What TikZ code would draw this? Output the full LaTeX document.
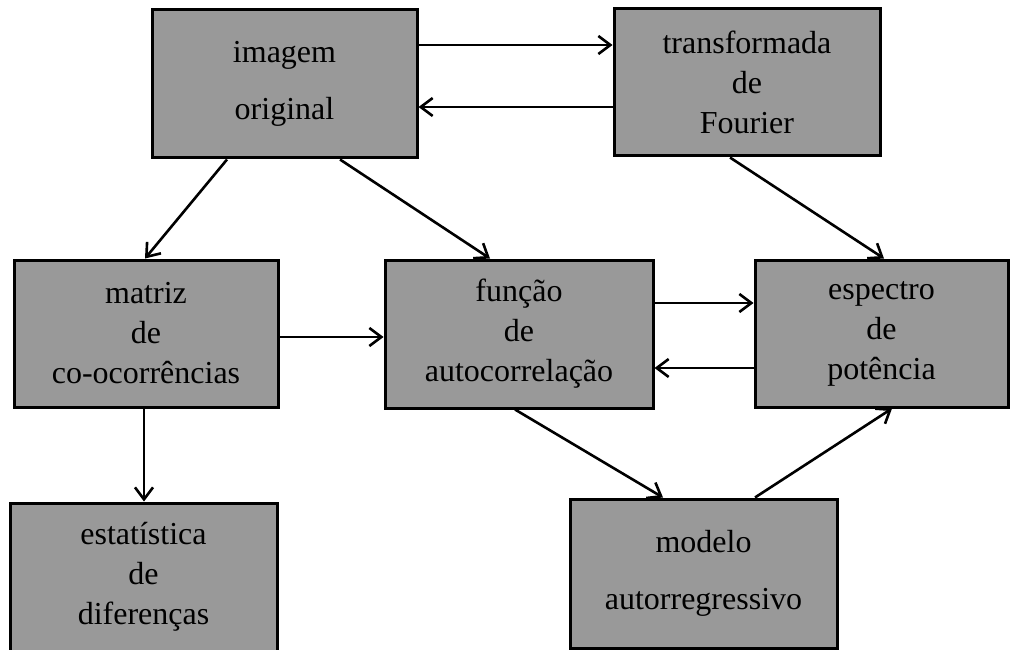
\documentclass[tikz,border=0pt]{standalone}
\usepackage{fontspec}
\setmainfont{Liberation Serif}
\usetikzlibrary{arrows.meta}
\begin{document}
\begin{tikzpicture}[x=1pt,y=-1pt,
  box/.style={draw=black, line width=3pt, fill=black!40, align=center,
    inner sep=0pt, font=\fontsize{32}{40}\selectfont},
  conn/.style={line width=2.6pt, -{Straight Barb[length=12pt,width=18pt,line width=2.6pt]}}]
\useasboundingbox (0,0) rectangle (1013,650);
\clip (0,0) rectangle (1013,650);
\node[box, minimum width=265pt, minimum height=148pt] (img) at (284.5,84) {imagem\\[17pt]original};
\node[box, minimum width=266pt, minimum height=147pt] (tf) at (747,82.5) {transformada\\de\\Fourier};
\node[box, minimum width=264pt, minimum height=147pt] (mat) at (146,333.5) {matriz\\de\\co-ocorrências};
\node[box, minimum width=268pt, minimum height=148pt] (fun) at (519,334) {função\\de\\autocorrelação};
\node[box, minimum width=253pt, minimum height=147pt] (esp) at (881.5,333.5) {espectro\\de\\potência};
\node[box, minimum width=267pt, minimum height=148pt] (est) at (143.5,577) {estatística\\de\\diferenças};
\node[box, minimum width=267pt, minimum height=149pt] (mod) at (703.5,573.5) {modelo\\[17pt]autorregressivo};
\draw[conn] ([yshift=39pt]img.east) -- ([yshift=37.5pt]tf.west);
\draw[conn] ([yshift=-24.5pt]tf.west) -- ([yshift=-23pt]img.east);
\draw[conn] ([yshift=-3.5pt]mat.east) -- ([yshift=-3pt]fun.west);
\draw[conn] ([yshift=31pt]fun.east) -- ([yshift=30.5pt]esp.west);
\draw[conn] ([yshift=-34.5pt]esp.west) -- ([yshift=-34pt]fun.east);
\draw[conn] ([xshift=-2pt]mat.south) -- ([xshift=0.5pt]est.north);
\draw[conn] ([xshift=-57.5pt]img.south) -- ([xshift=-1pt]mat.north);
\draw[conn] ([xshift=55.5pt]img.south) -- ([xshift=-29pt]fun.north);
\draw[conn] ([xshift=-17pt]tf.south) -- ([xshift=2.5pt]esp.north);
\draw[conn] ([xshift=-4pt]fun.south) -- ([xshift=-40.5pt]mod.north);
\draw[conn] ([xshift=51.5pt]mod.north) -- ([xshift=10.5pt]esp.south);
\end{tikzpicture}
\end{document}
